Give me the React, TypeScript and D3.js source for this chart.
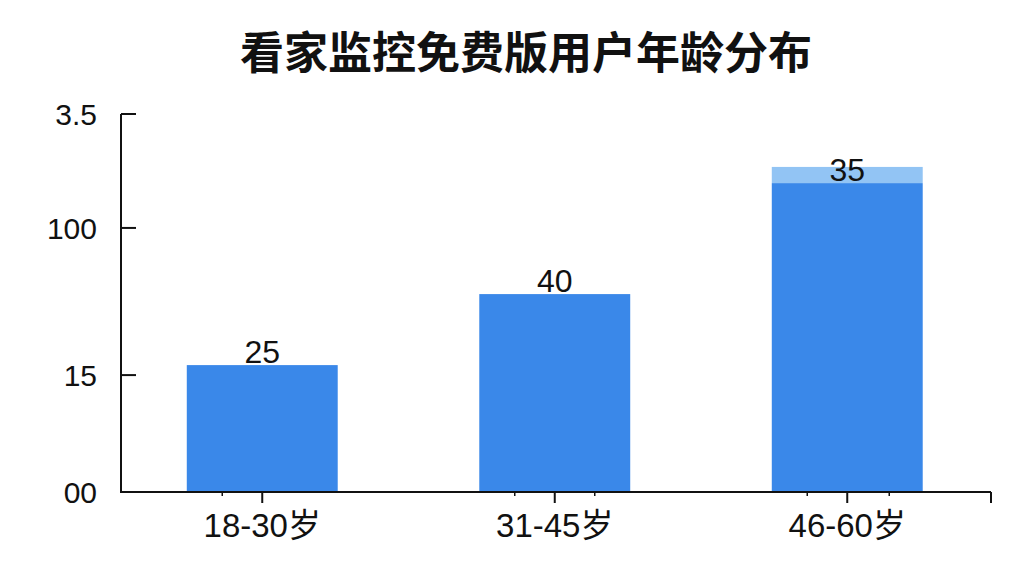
import React from 'react';
import * as d3 from 'd3';

// chart data
const categories = ['18-30岁', '31-45岁', '46-60岁'];
const barValues = [47, 73.3, 114.4];          // bar heights in axis units
const capValues = [0, 0, 120.4];              // lighter top band (only last bar)
const barLabels = ['25', '40', '35'];
const yTickValues = [0, 43.3, 97.8, 140];
const yTickLabels = ['00', '15', '100', '3.5'];
const minorTickOffsets = [[-40], [-40, 40], [-40, 42]];

const title = '看家监控免费版用户年龄分布';

const W = 1024;
const H = 576;
const axisLeft = 121;
const axisRight = 991;
const baseY = 492;
const topY = 114;

const latin = '"Liberation Sans", Arial, Helvetica, sans-serif';
const cjk = '"Liberation Sans", "Noto Sans CJK SC", sans-serif';

export default function App() {
    const x = d3.scaleBand<string>()
        .domain(categories)
        .range([116, 993.5])
        .paddingInner(0.484)
        .paddingOuter(0.242);
    const y = d3.scaleLinear().domain([0, 140]).range([baseY, topY]);

    const bw = x.bandwidth();

    return (
        <svg width={W} height={H} style={{ position: 'absolute', left: 0, top: 0, background: '#fff' }}>
            <text x={526} y={69} textAnchor="middle" fontFamily='"Noto Sans CJK SC", sans-serif'
                fontWeight={700} fontSize={44} fill="#111">{title}</text>

            {/* bars */}
            {categories.map((c, i) => {
                const x0 = x(c) as number;
                return (
                    <g key={c}>
                        {capValues[i] > 0 && (
                            <rect x={x0} y={y(capValues[i])} width={bw}
                                height={y(barValues[i]) - y(capValues[i])} fill="#92C4F4" />
                        )}
                        <rect x={x0} y={y(barValues[i])} width={bw}
                            height={baseY - y(barValues[i])} fill="#3A88E9" />
                        <text x={x0 + bw / 2} y={y(barValues[i]) - 2} textAnchor="middle"
                            fontFamily={latin} fontSize={32} fill="#111">{barLabels[i]}</text>
                    </g>
                );
            })}

            {/* y axis */}
            <line x1={axisLeft} x2={axisLeft} y1={y(140)} y2={baseY} stroke="#111" strokeWidth={2} />
            {yTickValues.map((v, i) => (
                <g key={'yt' + i}>
                    {i > 0 && <line x1={axisLeft} x2={axisLeft + 15} y1={y(v)} y2={y(v)} stroke="#111" strokeWidth={2} />}
                    <text x={97} y={y(v)} dy="0.36em" textAnchor="end" fontFamily={latin}
                        fontSize={30} fill="#111">{yTickLabels[i]}</text>
                </g>
            ))}

            {/* x axis */}
            <line x1={axisLeft - 1} x2={axisRight} y1={baseY} y2={baseY} stroke="#111" strokeWidth={2} />
            <line x1={axisRight} x2={axisRight} y1={baseY} y2={baseY + 11} stroke="#111" strokeWidth={2} />
            {categories.map((c, i) => {
                const cx = (x(c) as number) + bw / 2;
                return (
                    <g key={'xt' + c}>
                        <line x1={cx} x2={cx} y1={baseY} y2={baseY + 11} stroke="#111" strokeWidth={2} />
                        {minorTickOffsets[i].map((o, j) => (
                            <line key={j} x1={cx + o} x2={cx + o} y1={baseY} y2={baseY + 4}
                                stroke="#111" strokeWidth={1.5} />
                        ))}
                        <text x={cx} y={537} textAnchor="middle" fontFamily={cjk}
                            fontSize={33} fill="#111">{c}</text>
                    </g>
                );
            })}
        </svg>
    );
}
